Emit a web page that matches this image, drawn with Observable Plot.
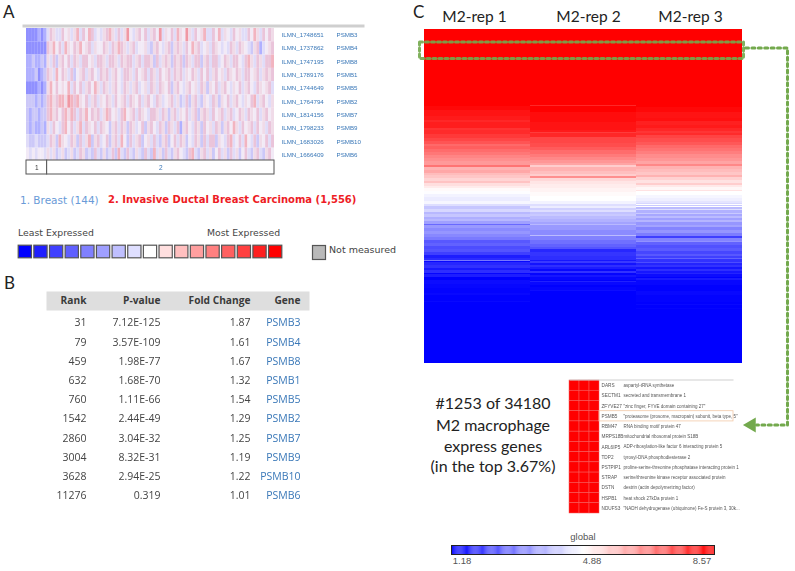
<!DOCTYPE html>
<html>
<head>
<meta charset="utf-8">
<script src="https://cdn.jsdelivr.net/npm/d3@7"></script>
<script src="https://cdn.jsdelivr.net/npm/@observablehq/plot@0.6"></script>
<style>
html,body{margin:0;padding:0;background:#fff}
#root{position:relative;width:795px;height:571px;overflow:hidden;background:#fff}
#root svg{position:absolute;overflow:visible;background:transparent}
.lab{position:absolute;white-space:nowrap;transform:translateY(-50%);line-height:1}
</style>
</head>
<body>
<div id="root"></div>
<script>
// ---------- Panel A: expression heat map ----------
const probes = ["ILMN_1748651","ILMN_1737862","ILMN_1747195","ILMN_1789176","ILMN_1744649","ILMN_1764794","ILMN_1814156","ILMN_1798233","ILMN_1683026","ILMN_1666409"];
const genes = ["PSMB3","PSMB4","PSMB8","PSMB1","PSMB5","PSMB2","PSMB7","PSMB9","PSMB10","PSMB6"];
const rowPSMB3 = [-4,-4,-4,-4,-3,-4,-3,-1,2,1,-1,-1,2,0,1,-1,1,3,-1,2,0,3,2,-1,0,-1,1,2,3,1,-1,2,-1,1,4,0,-1,1,2,0,2,-1,1,2,0,4,-1,1,0,2,-1,3,1,0,4,1,-1,2,0,1,3,-1,-1,2,0,3,-1,1,0,-1,2,0,1,-1,-1,2,0,3,1,-1,2,0,2,1];
const rowPSMB4 = [-4,-4,-4,-4,-4,-4,-4,2,1,3,0,2,-1,3,1,0,2,1,3,0,1,2,-1,1,0,0,2,1,-1,2,1,3,2,1,-1,1,2,-1,0,0,1,-1,-2,1,2,0,-1,1,2,-2,1,2,1,-1,2,0,3,1,2,-1,0,1,-1,2,1,0,-1,0,-1,2,1,-1,2,1,0,-1,-2,1,2,-3,-1,0,1,2];
const rowPSMB8 = [-3,-3,-2,-3,-3,-2,-3,1,-1,2,-2,1,2,0,2,-1,2,1,-1,2,2,0,1,-1,2,2,1,-1,2,2,1,-1,2,1,2,2,-1,1,2,-1,2,2,1,-2,2,-1,1,2,1,-2,2,1,2,-2,2,1,-1,2,2,-2,1,2,-1,2,2,-1,0,2,1,-1,2,2,0,-1,2,3,1,-1,2,1,-1,2,2,3];
const rowPSMB1 = [-3,-3,-3,-2,-4,-3,-2,2,1,-1,3,0,2,1,-1,2,-2,0,1,2,-1,1,2,0,-1,2,1,2,-1,1,2,0,-1,2,2,1,-1,2,0,1,2,-1,2,1,-1,2,0,1,2,-1,2,1,2,-1,1,0,2,1,-1,2,0,2,-1,1,2,0,1,-1,2,1,0,2,1,-1,2,2,0,1,2,-1,1,2,1,2];
const rowPSMB5 = [-4,-4,-4,-4,-3,-4,-3,1,3,0,2,0,1,0,3,-1,2,0,2,-1,1,2,0,3,1,-1,2,1,-1,1,2,0,-1,2,1,-1,1,2,-1,0,1,-1,2,1,-1,2,1,0,2,-2,1,2,0,-1,1,2,0,1,-1,2,1,-2,1,0,2,-1,1,2,0,-1,1,0,2,-1,1,2,0,-1,2,1,0,1,2,-1];
const rowPSMB2 = [-2,-2,-2,-3,-2,-3,-2,2,3,1,2,3,3,1,4,3,2,3,1,0,2,-1,1,2,-1,1,0,2,1,-1,2,0,1,2,-1,2,1,0,2,-1,1,2,0,-1,2,1,-1,0,1,2,-1,1,-2,-1,2,-2,1,2,-1,-2,1,0,-1,2,1,-2,1,0,2,-1,1,2,0,-1,1,0,2,3,-1,1,2,0,-1,1];
const rowPSMB7 = [-2,-3,-2,-2,-3,-2,-2,2,3,1,2,0,2,3,1,3,2,-1,2,1,3,0,2,1,2,-1,1,3,2,0,1,-1,2,3,0,1,2,-1,2,1,0,-1,2,2,1,-1,2,1,-2,1,2,-1,1,0,2,-1,1,2,-2,1,2,1,-1,2,0,1,2,-1,1,2,-1,0,2,1,-1,2,1,0,2,-1,1,2,0,1];
const rowPSMB9 = [-2,-3,-2,-3,-3,-2,-3,1,-1,2,0,-1,2,3,0,2,-1,1,3,-1,2,1,0,2,-1,2,1,0,-2,1,2,-1,2,1,-2,2,1,-1,0,2,-2,1,2,0,-1,2,1,-2,2,1,-1,2,-3,1,2,0,-1,2,1,-2,2,0,1,-1,2,1,-2,1,2,0,3,1,-1,2,0,1,2,-1,2,0,1,-1,2,1];
const rowPSMB10 = [-1,-2,-2,-1,-2,-2,-2,-1,2,1,-2,3,1,0,-1,2,1,-2,2,-1,1,3,-2,1,2,-1,0,2,-2,1,2,-1,3,0,-2,2,-1,1,2,-2,0,1,-1,2,-1,-2,1,2,-2,0,2,-1,2,1,-2,0,-1,2,1,-2,2,-1,2,2,-2,1,0,-1,2,3,-1,0,2,-1,3,0,-1,2,-2,1,0,2,-1,2];
const rowPSMB6 = [0,-1,0,-1,0,0,-1,1,-1,1,-2,-1,1,-2,-1,1,-2,-1,2,1,-2,-1,-2,2,-1,-2,1,-2,-1,2,-2,3,-1,-2,2,-1,-2,1,-1,-2,2,-1,-2,3,-1,1,-2,2,-1,-2,1,2,0,-1,-2,2,3,-1,-2,1,2,-1,1,-2,0,2,-1,1,-2,2,-1,1,-2,0,2,-1,-2,1,2,-1,-2,1,2,0];
const heatRows = [rowPSMB3,rowPSMB4,rowPSMB8,rowPSMB1,rowPSMB5,rowPSMB2,rowPSMB7,rowPSMB9,rowPSMB10,rowPSMB6];
const sampleGroups = ["1","2"];
const groupStart = [0,7];
const groupEnd = [7,84];
const legendLevels = [-8,-7,-6,-5,-4,-3,-2,-1,0,1,2,3,4,5,6,7,8];

// ---------- Panel B: table ----------
const tableHeaders = ["Rank","P-value","Fold Change","Gene"];
const ranks = ["31","79","459","632","760","1542","2860","3004","3628","11276"];
const pValues = ["7.12E-125","3.57E-109","1.98E-77","1.68E-70","1.11E-66","2.44E-49","3.04E-32","8.32E-31","2.94E-25","0.319"];
const foldChanges = ["1.87","1.61","1.67","1.32","1.54","1.29","1.25","1.19","1.22","1.01"];

// ---------- Panel C: ordered expression, run lengths (gene bins) and values ----------
const reps = ["M2-rep 1","M2-rep 2","M2-rep 3"];
const rep1Bins = [77,4,6,4,2,6,2,4,4,3,3,2,3,3,3,3,3,4,2,3,3,2,3,3,2,3,2,3,3,3,4,3,2,3,3,2,3,2,2,3,1,3,3,3,3,3,3,3,3,3,3,3,2,1,1,3,3,2,3,1,3,3,4,4,5,2,6,1,61];
const rep1Values = [8.57,8.45,8.3,8.2,8.0,8.15,7.85,7.95,7.75,7.55,7.35,7.05,7.2,7.0,6.85,6.65,6.5,6.35,6.9,6.0,6.15,5.85,5.7,5.5,5.75,5.35,5.15,4.95,4.85,4.7,4.6,4.75,4.4,4.05,4.3,3.85,4.05,3.7,3.85,3.5,2.7,3.4,3.2,3.35,3.15,2.95,2.45,2.6,2.3,2.4,2.1,1.6,1.8,2.9,1.3,1.75,1.9,1.55,1.85,1.25,1.6,1.2,1.35,1.28,1.22,1.3,1.2,1.3,1.18];
const rep2Bins = [76,1,6,10,8,2,1,4,6,4,3,4,3,3,3,2,2,4,3,2,2,3,3,4,4,4,5,3,2,2,2,2,2,2,3,3,2,1,5,5,1,4,4,3,2,3,4,4,1,2,2,2,2,2,2,2,2,3,1,1,3,2,3,1,72];
const rep2Values = [8.57,8.0,8.57,8.4,8.3,8.2,7.7,8.0,7.55,7.45,7.25,7.0,6.8,6.6,6.4,6.2,5.6,6.0,5.8,5.6,6.5,5.45,5.25,5.15,5.05,4.95,4.88,4.7,4.4,4.6,4.2,4.4,4.0,4.1,3.9,3.75,3.55,3.85,3.4,3.2,3.9,3.05,2.8,2.6,2.4,1.75,1.95,1.85,1.5,2.0,1.45,1.85,1.6,1.3,1.9,1.25,1.5,1.3,1.18,1.65,1.3,1.18,1.25,1.35,1.18];
const rep3Bins = [78,5,6,3,4,3,3,2,2,3,4,3,3,3,3,4,3,3,2,3,3,3,2,3,3,2,2,3,1,4,3,3,2,1,1,1,1,2,1,3,1,2,2,2,2,3,2,3,3,3,2,3,1,3,3,3,3,2,2,1,3,1,2,2,2,2,2,1,3,1,2,5,6,4,7,2,1,3,1,54];
const rep3Values = [8.57,8.45,8.3,8.35,8.1,8.2,8.0,7.8,7.95,7.6,7.45,7.3,7.05,6.9,6.75,6.55,6.4,6.2,6.6,6.0,5.85,5.7,6.0,5.55,5.3,5.6,5.2,5.0,5.3,4.88,4.75,4.65,4.5,4.3,4.88,4.1,4.88,3.9,4.4,3.75,4.1,3.6,3.9,3.5,3.8,3.35,3.55,3.1,3.35,3.0,2.1,3.1,3.3,2.6,2.35,2.5,2.2,2.45,2.1,2.6,1.9,2.3,1.7,1.9,1.5,1.85,1.5,1.7,1.35,1.2,1.55,1.28,1.2,1.3,1.22,1.18,1.3,1.18,1.25,1.18];
const colorDomain = [1.18,4.88,8.57];

// gene list beside the enlarged strip
const topGenes = ["DARS","SECTM1","ZFYVE27","PSMB5","RBM47","MRPS18B","ARL6IP5","TDP2","PSTPIP1","STRAP","DSTN","HSPB1","NDUFS3"];
const topDescriptions = ["aspartyl-tRNA synthetase","secreted and transmembrane 1","\"zinc finger, FYVE domain containing 27\"","\"proteasome (prosome, macropain) subunit, beta type, 5\"","RNA binding motif protein 47","mitochondrial ribosomal protein S18B","ADP-ribosylation-like factor 6 interacting protein 5","tyrosyl-DNA phosphodiesterase 2","proline-serine-threonine phosphatase interacting protein 1","serine/threonine kinase receptor associated protein","destrin (actin depolymerizing factor)","heat shock 27kDa protein 1","\"NADH dehydrogenase (ubiquinone) Fe-S protein 3, 30k..."];
const highlightGene = "PSMB5";
const barLabels = ["1.18","4.88","8.57"];
const noteLines = ["#1253 of 34180","M2 macrophage","express genes","(in the top 3.67%)"];
const connectorX = [745,787,787,756];
const connectorY = [47.5,47.5,424.5,424.5];
const stripX = [419,743,743,419,419];
const stripY = [41.5,41.5,58,58,41.5];

// ---------- helpers ----------
const root = document.getElementById("root");
function place(opts, left, top, blur){
  const svg = Plot.plot({margin:0, ...opts});
  svg.style.left = left + "px";
  svg.style.top = top + "px";
  if (blur) svg.style.filter = `blur(${blur}px)`;
  root.appendChild(svg);
  return svg;
}
function label(text, left, top, css){
  const d = document.createElement("div");
  d.className = "lab";
  d.textContent = text;
  d.style.left = left + "px";
  d.style.top = top + "px";
  Object.assign(d.style, css);
  root.appendChild(d);
  return d;
}
const letter = {fontFamily:"Lato", fontSize:"17px", color:"#222"};
label("A", 3, 11, letter);
label("B", 4, 282, letter);
label("C", 413, 11, letter);

const blue = "#3a78b8";
// ---------- Panel A ----------
const heatCells = heatRows.flatMap((r,i) => r.map((v,c) => ({gene:genes[i], col:c, v})));
place({
  width:248, height:133,
  x:{type:"band", domain:d3.range(84), padding:0, round:false, axis:null},
  y:{type:"band", domain:genes, padding:0, round:false, axis:null},
  color:{type:"linear", domain:[-4,-3,-2,-1,0,1,2,3,4],
         range:["#9090ff","#b0b0ff","#ccc8f8","#e0dcf8","#f2eaf6","#f0dbe8","#eac4da","#f2b4c0","#f098a4"]},
  marks:[Plot.cell(heatCells,{x:"col",y:"gene",fill:"v"})]
}, 26, 27.5, 0.55);
// grey strip above the heat map
place({width:342, height:3, marks:[Plot.frame({fill:"#cfcfcf", stroke:null})]}, 22, 24);
// sample group bar
place({
  width:248, height:14,
  x:{domain:[0,84], axis:null}, y:{domain:[0,1], axis:null},
  marks:[
    Plot.rectY(sampleGroups,{x1:(d,i)=>groupStart[i], x2:(d,i)=>groupEnd[i], y1:()=>0, y2:()=>1, fill:"#fff", stroke:"#555", strokeWidth:1}),
    Plot.text(sampleGroups,{x:(d,i)=>(groupStart[i]+groupEnd[i])/2, frameAnchor:"middle", text:d=>d, fontSize:6.5, fontFamily:"Liberation Sans", fill:(d,i)=> i ? blue : "#333"})
  ]
}, 26, 160, 0.3);
// probe and gene labels
place({
  width:100, height:133,
  x:{type:"point", domain:["probe","gene"], range:[0,55], padding:0, axis:null},
  y:{type:"band", domain:genes, padding:0, round:false, axis:null},
  marks:[
    Plot.text(genes,{x:()=>"probe", y:d=>d, text:(d,i)=>probes[i], textAnchor:"start", fontSize:6.2, fontFamily:"Liberation Sans", fill:blue}),
    Plot.text(genes,{x:()=>"gene", y:d=>d, text:d=>d, textAnchor:"start", fontSize:6.2, fontFamily:"Liberation Sans", fill:blue})
  ]
}, 281, 27.5, 0.3);
// class legend text
const dj = {fontFamily:"DejaVu Sans"};
label("1. Breast (144)", 20, 200, {...dj, fontSize:"10.5px", color:"#6a9bd8"});
label("2. Invasive Ductal Breast Carcinoma (1,556)", 108, 200, {...dj, fontSize:"10px", color:"#ee1c25", fontWeight:"bold"});
label("Least Expressed", 18, 233, {...dj, fontSize:"9.3px", color:"#444"});
label("Most Expressed", 207, 233, {...dj, fontSize:"9.3px", color:"#444"});
label("Not measured", 329, 250, {...dj, fontSize:"9.5px", color:"#444"});
// expression colour swatches
place({
  width:266, height:15,
  x:{type:"band", domain:legendLevels, padding:0, round:false, axis:null},
  color:{type:"linear", domain:[-8,0,8], range:["#0000ff","#ffffff","#ff0000"]},
  marks:[Plot.cell(legendLevels,{x:d=>d, fill:d=>d, stroke:"#555", strokeWidth:1.2, inset:1.2})]
}, 17, 244, 0.3);
place({width:13, height:14, marks:[Plot.frame({fill:"#b9b9b9", stroke:"#555", strokeWidth:1.2})]}, 311.5, 244.5, 0.3);

// ---------- Panel B ----------
const colRight = {"Rank":40,"P-value":114,"Fold Change":204,"Gene":254};
const tf = {fontFamily:"Open Sans", fontSize:10.5};
place({
  width:263, height:19,
  x:{type:"identity", axis:null},
  marks:[
    Plot.frame({fill:"#dedede", stroke:null}),
    Plot.text(tableHeaders,{x:d=>colRight[d], frameAnchor:"middle", text:d=>d, textAnchor:"end", fontFamily:"Open Sans", fontSize:10.2, fontWeight:"bold", fill:"#3a3a3a"})
  ]
}, 46, 291);
const tableRows = ranks.map((r,i)=>({row:i, rank:r, p:pValues[i], fc:foldChanges[i], gene:genes[i]}));
place({
  width:263, height:192,
  x:{type:"identity", axis:null},
  y:{type:"band", domain:d3.range(10), padding:0, round:false, axis:null},
  marks:[
    Plot.text(tableRows,{x:()=>colRight["Rank"], y:"row", text:"rank", textAnchor:"end", ...tf, fill:"#444"}),
    Plot.text(tableRows,{x:()=>colRight["P-value"], y:"row", text:"p", textAnchor:"end", ...tf, fill:"#444"}),
    Plot.text(tableRows,{x:()=>colRight["Fold Change"], y:"row", text:"fc", textAnchor:"end", ...tf, fill:"#444"}),
    Plot.text(tableRows,{x:()=>colRight["Gene"], y:"row", text:"gene", textAnchor:"end", ...tf, fill:blue})
  ]
}, 46, 312.5, 0.2);

// ---------- Panel C ----------
function segments(rep, bins, values){
  const edges = [0, ...d3.cumsum(bins)];
  return values.map((v,i)=>({rep, y1:edges[i], y2:edges[i+1], v}));
}
const heat = [...segments(reps[0],rep1Bins,rep1Values), ...segments(reps[1],rep2Bins,rep2Values), ...segments(reps[2],rep3Bins,rep3Values)];
const bwr = {type:"linear", domain:colorDomain, range:["#0000ff","#ffffff","#ff0000"]};
place({
  width:318, height:334,
  x:{type:"band", domain:reps, padding:0, round:false, axis:null},
  y:{domain:[0,334], reverse:true, axis:null, clamp:true},
  color:bwr,
  marks:[Plot.barY(heat,{x:"rep", y1:"y1", y2:"y2", fill:"v"})]
}, 423.5, 29, 0.4);
const repLabelX = [474,588,690];
place({
  width:795, height:26,
  x:{type:"identity", axis:null},
  marks:[Plot.text(reps,{x:(d,i)=>repLabelX[i], frameAnchor:"middle", text:d=>d, fontFamily:"Lato", fontSize:15.5, fill:"#222"})]
}, 0, 4);
// dotted strip marker and connector
const green = "#73a94d";
place({
  width:795, height:571,
  x:{type:"identity", axis:null}, y:{type:"identity", axis:null},
  marks:[
    Plot.line(stripX.map((x,i)=>({x,y:stripY[i]})),{x:"x",y:"y",stroke:green,strokeWidth:3,strokeDasharray:"3,3",strokeOpacity:0.9}),
    Plot.line(connectorX.map((x,i)=>({x,y:connectorY[i]})),{x:"x",y:"y",stroke:green,strokeWidth:3,strokeDasharray:"3,3.4"}),
    Plot.dot([{x:751,y:424.5}],{x:"x",y:"y",symbol:"triangle",r:5.5,rotate:-90,fill:green,stroke:null})
  ]
}, 0, 0);
// note
noteLines.forEach((t,i)=>{
  const d = label(t, 493, [403,424.5,445.5,466][i], {fontFamily:"Lato", fontSize:"16px", color:"#222"});
  d.style.transform = "translate(-50%,-50%)";
});
// zoomed list
const listRows = topGenes.map((g,i)=>({gene:g, desc:topDescriptions[i]}));
const listCells = topGenes.flatMap(g=>[0,1,2].map(c=>({gene:g,c,v:8.57})));
place({
  width:164, height:133,
  x:{domain:[0,16.4], axis:null},
  y:{type:"band", domain:topGenes, padding:0, round:false, axis:null},
  color:bwr,
  marks:[
    Plot.barX(listCells,{x1:"c", x2:d=>d.c+1, y:"gene", fill:"v", stroke:"#f26060", strokeWidth:0.5}),
    Plot.barX([highlightGene],{x1:()=>3, x2:()=>16.4, y:d=>d, fill:"none", stroke:"#f2c9a8", strokeWidth:0.8}),
    Plot.text(listRows,{x:()=>3.2, y:"gene", text:"gene", textAnchor:"start", fontSize:4.7, fontFamily:"Liberation Sans", fill:"#555"}),
    Plot.text(listRows,{x:()=>5.4, y:"gene", text:"desc", textAnchor:"start", fontSize:4.5, fontFamily:"Liberation Sans", fill:"#555"})
  ]
}, 569, 380, 0.35);
place({width:164, height:1, marks:[Plot.frame({fill:"#d0d0d0", stroke:null})]}, 569, 379);
// colour bar
const rampValues = d3.range(1.18, 8.57, 0.03);
place({
  width:263, height:9,
  x:{domain:[1.18,8.57], axis:null}, y:{domain:[0,1],axis:null},
  color:bwr,
  marks:[
    Plot.rectY(rampValues,{x1:d=>d, x2:d=>d+0.03, y1:()=>0, y2:()=>1, fill:d=>d}),
    Plot.frame({stroke:"#222", strokeWidth:1})
  ]
}, 451, 545, 0.2);
label("global", 583, 537, {fontFamily:"Liberation Sans", fontSize:"9.5px", color:"#555"}).style.transform="translate(-50%,-50%)";
barLabels.forEach((t,i)=>{
  const d = label(t, [462,592,702][i], 561, {fontFamily:"Liberation Sans", fontSize:"9.5px", color:"#555"});
  d.style.transform="translate(-50%,-50%)";
});
</script>
</body>
</html>
